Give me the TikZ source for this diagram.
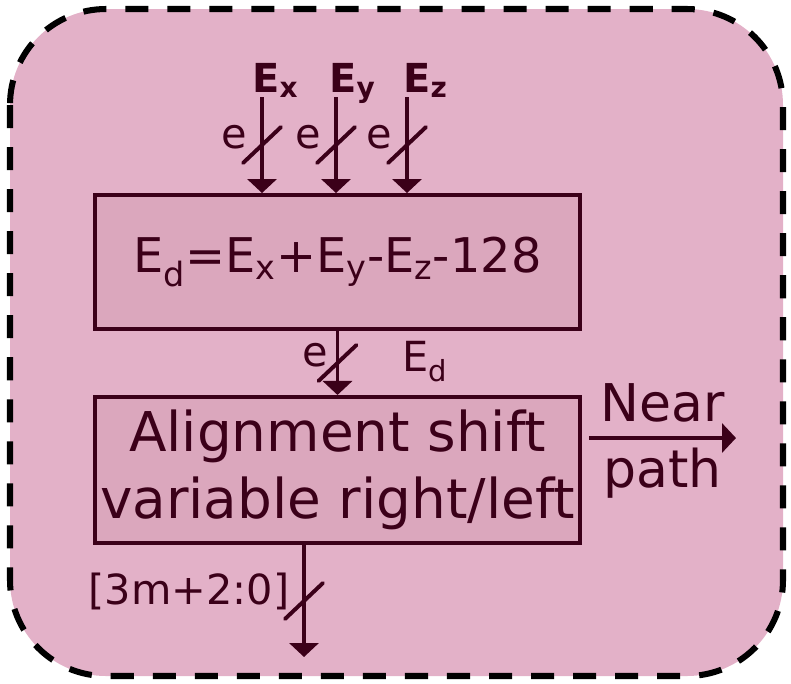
\documentclass[tikz,border=0pt]{standalone}
\usepackage{fontspec}
\setmainfont{DejaVu Sans}
\usetikzlibrary{arrows.meta,positioning,decorations.markings}

\definecolor{bgpink}{RGB}{227,177,200}
\definecolor{boxpink}{RGB}{219,167,189}
\definecolor{wine}{RGB}{59,0,25}

\tikzset{
  blk/.style={draw=wine, fill=boxpink, line width=2.8pt, minimum width=12.125cm,
    inner sep=0pt, align=center, text=wine, font=\fontsize{39}{48}\selectfont},
  sig/.style={draw=wine, line width=2.8pt, -{Triangle[width=0.725cm,length=0.35cm]}},
  bus/.style={postaction={decorate, decoration={markings,
    mark=at position 0.5 with {\draw[-, wine, line width=2.8pt, line cap=round] (0.45,-0.475) -- (-0.45,0.475);}}}},
  lbl/.style={text=wine, inner sep=0pt, font=\fontsize{29.5}{34}\selectfont},
  buslbl/.style={lbl, pos=0.5, anchor=base east, xshift=-0.32cm, yshift=-0.08cm},
  pathlbl/.style={text=wine, font=\fontsize{37}{44}\selectfont},
}

\begin{document}
\begin{tikzpicture}
  \useasboundingbox (0,0) rectangle (19.775,-17.075);
  % dashed frame
  \draw[black, fill=bgpink, line width=4.3pt, dash pattern=on 16.4pt off 13.5pt,
    rounded corners=2.4cm] (0.25,-0.225) rectangle (19.575,-16.9);

  % blocks
  \node[blk, minimum height=3.35cm, font=\fontsize{34}{40}\selectfont] (expo) at (8.4375,-6.55)
    {E\textsubscript{d}=E\textsubscript{x}+E\textsubscript{y}-E\textsubscript{z}-128};
  \node[blk, minimum height=3.65cm, below=1.6cm of expo] (shift)
    {Alignment shift\\variable right/left};

  % exponent inputs
  \foreach \n/\x/\lx in {x/6.55/6.3, y/8.4/8.225, z/10.175/10.075} {
    \node[lbl, anchor=base west, font=\bfseries\fontsize{28.4}{34}\selectfont] (E\n) at (\lx,-2.3)
      {E\textsubscript{\n}};
    \coordinate (in\n) at (\x,-2.425);
    \draw[sig, bus] (in\n) -- node[buslbl] (w\n) {e} (in\n |- expo.north);
  }

  % exponent difference
  \draw[sig, bus] (expo.south) -- node[buslbl, xshift=0.12cm] (wd) {e}
    node[lbl, pos=0.5, anchor=base west, xshift=1.575cm, yshift=-0.225cm] (Ed) {E\textsubscript{d}}
    (shift.north);

  % near path
  \coordinate (nps) at (14.725,-10.95);
  \coordinate (npe) at (18.4,-10.95);
  \draw[sig] (nps) -- node[pathlbl, above, inner sep=0.35cm] (near) {Near}
    node[pathlbl, below, inner sep=0.2cm] (path) {path} (npe);

  % shifted output
  \coordinate (out) at (7.6,-16.425);
  \draw[sig, bus] (shift.south -| out) -- node[buslbl] (wo) {[3m+2:0]} (out);
\end{tikzpicture}
\end{document}
